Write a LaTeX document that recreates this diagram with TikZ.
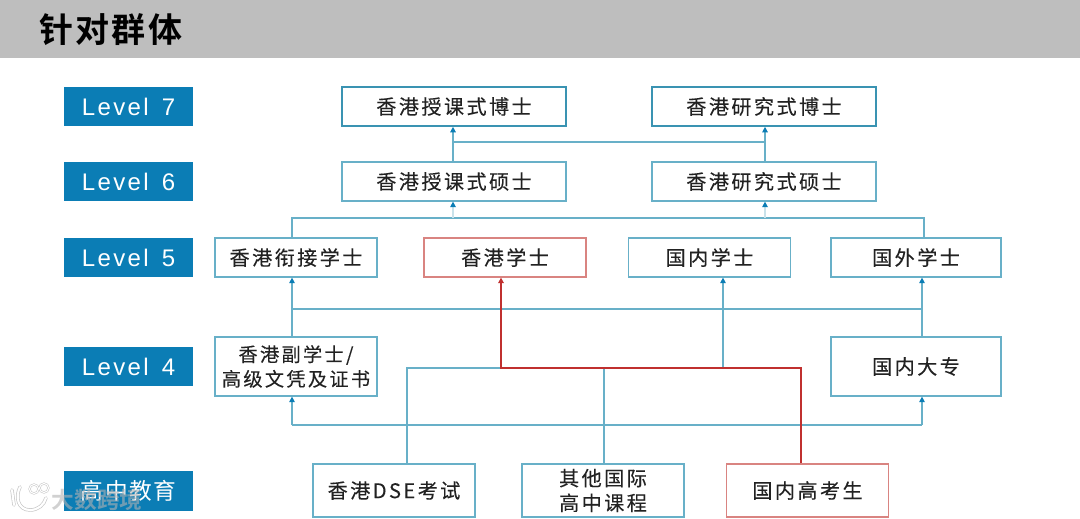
\documentclass[tikz,border=0pt]{standalone}
\usepackage{fontspec}
\setmainfont{Liberation Sans}
\newfontfamily\cjk[LetterSpace=12,FakeBold=0.15]{Noto Sans CJK SC}
\newfontfamily\cjkhead[LetterSpace=7]{Noto Sans CJK SC Bold}
\newfontfamily\cjkwide[LetterSpace=7]{Noto Sans CJK SC}
\newfontfamily\cjkmark{Noto Sans CJK SC Bold}
\newfontfamily\lat[LetterSpace=10]{Liberation Sans}
\usetikzlibrary{arrows.meta}
\definecolor{band}{HTML}{BEBEBE}
\definecolor{lvl}{HTML}{0B7DB5}
\definecolor{ln}{HTML}{68B0C8}
\definecolor{lnd}{HTML}{3A93B2}
\definecolor{lnf}{HTML}{C9E2EA}
\definecolor{rd}{HTML}{C0302F}
\definecolor{rdl}{HTML}{D98481}
\definecolor{tx}{HTML}{222222}
\tikzset{
  lvlbox/.style={fill=lvl,text=white,minimum width=96.75pt,minimum height=29.25pt,inner sep=0pt,font=\fontsize{18}{20}\selectfont\lat},
  cbox/.style={draw=ln,line width=.9pt,fill=white,text=tx,inner sep=0pt,align=center,font=\fontsize{15.1}{18.5}\selectfont\cjk},
  wide/.style={cbox,minimum width=168pt,minimum height=29.25pt},
  mid/.style={cbox,minimum width=121.5pt,minimum height=29.25pt},
  big/.style={cbox,minimum width=127.5pt,minimum height=29.25pt},
  link/.style={ln,line width=.9pt},
  tipblue/.style={-{Triangle[length=4.2pt,width=4.2pt,color=lvl,fill=lvl]}},
  linkarr/.style={link,tipblue},
  redlink/.style={rd,line width=1.1pt},
  redarr/.style={redlink,-{Triangle[length=4.2pt,width=4.2pt,color=rd,fill=rd]}}
}
\begin{document}
\begin{tikzpicture}[x=0.75pt,y=-0.75pt]
\useasboundingbox (0,0) rectangle (1080,518);
\fill[band] (0,0) rectangle (1080,58);
\node[anchor=west,inner sep=0pt,text=black,font=\fontsize{25.5}{27}\selectfont\cjkhead] (title) at (39,30) {针对群体};
% level labels
\node[lvlbox] (l7) at (128.5,106.5) {Level\hspace{3pt} 7};
\node[lvlbox] (l6) at (128.5,181.5) {Level\hspace{3pt} 6};
\node[lvlbox] (l5) at (128.5,257.5) {Level\hspace{3pt} 5};
\node[lvlbox] (l4) at (128.5,366.5) {Level\hspace{3pt} 4};
\node[lvlbox,minimum height=30pt,font=\fontsize{17}{20}\selectfont\cjkwide] (l3) at (128.5,491) {高中教育};
% anchors of the vertical runs
\coordinate (xa) at (292,0);
\coordinate (xb) at (453,0);
\coordinate (xc) at (501,0);
\coordinate (xd) at (723,0);
\coordinate (xe) at (765,0);
\coordinate (xf) at (922,0);
\coordinate (xg) at (407,0);
\coordinate (xh) at (604,0);
\coordinate (xi) at (801,0);
\coordinate (xj) at (924,0);
\coordinate (yt) at (0,142);
\coordinate (ym) at (0,218);
\coordinate (yn) at (0,309);
\coordinate (yo) at (0,368);
\coordinate (yp) at (0,425);
% boxes
\node[wide,draw=lnd,line width=1.2pt] (d1) at (454,106.5) {香港授课式博士};
\node[wide,draw=lnd,line width=1.2pt] (d2) at (764,106.5) {香港研究式博士};
\node[wide] (m1) at (454,181.5) {香港授课式硕士};
\node[wide] (m2) at (764,181.5) {香港研究式硕士};
\node[mid] (b1) at (296,257.5) {香港衔接学士};
\node[mid,draw=rdl] (b2) at (505,257.5) {香港学士};
\node[mid] (b3) at (709.5,257.5) {国内学士};
\node[big] (b4) at (916,257.5) {国外学士};
\node[mid,minimum height=44.25pt,font=\fontsize{14.4}{18.5}\selectfont\cjk] (a1) at (296,366.5) {香港副学士/\\高级文凭及证书};
\node[big,minimum height=44.25pt] (a2) at (916,366.5) {国内大专};
\node[mid,minimum height=39.75pt] (h1) at (394,490.5) {香港DSE考试};
\node[mid,minimum height=39.75pt] (h2) at (603,490.5) {其他国际\\高中课程};
\node[mid,minimum height=39.75pt,draw=rdl] (h3) at (807.5,490.5) {国内高考生};
% level 6 to 7
\draw[linkarr] (m1.north -| xb) -- (d1.south -| xb);
\draw[linkarr] (m2.north -| xe) -- (d2.south -| xe);
\draw[link] (xb |- yt) -- (xe |- yt);
% level 5 to 6
\draw[link] (b1.north -| xa) -- (xa |- ym) -- (xj |- ym) -- (b4.north -| xj);
\draw[lnf,line width=1pt,tipblue] (xb |- ym) -- (m1.south -| xb);
\draw[lnf,line width=1pt,tipblue] (xe |- ym) -- (m2.south -| xe);
% level 4 to 5
\draw[linkarr] (a1.north -| xa) -- (b1.south -| xa);
\draw[linkarr] (a2.north -| xf) -- (b4.south -| xf);
\draw[link] (xa |- yn) -- (xf |- yn);
% school to level 4
\draw[linkarr] (xf |- yp) -- (a2.south -| xf);
\draw[linkarr] (xa |- yp) -- (a1.south -| xa);
\draw[link] (xa |- yp) -- (xf |- yp);
% school to level 5
\draw[link] (h1.north -| xg) -- (xg |- yo) -- (xc |- yo);
\draw[link] (h2.north -| xh) -- (xh |- yo);
\draw[linkarr] (xd |- yo) -- (b3.south -| xd);
% red route
\draw[redarr] (h3.north -| xi) -- (xi |- yo) -- (xc |- yo) -- (b2.south -| xc);
% watermark
\draw[gray!45,line width=2.6pt,line cap=round] (12,490) -- (14,505) (20,487) .. controls (15,497) and (18,510) .. (30,510) .. controls (38,510) and (44,505) .. (46,498);
\draw[white,line width=1.6pt,line cap=round] (12,490) -- (14,505) (20,487) .. controls (15,497) and (18,510) .. (30,510) .. controls (38,510) and (44,505) .. (46,498);
\draw[gray!45,line width=1.6pt] (34,489) circle (4.5) (44,488) circle (4.5);
\draw[white,line width=.8pt] (34,489) circle (4.5) (44,488) circle (4.5);
\begin{scope}[opacity=.6]
\node[text=gray!60,inner sep=0pt,font=\fontsize{17}{18}\selectfont\cjkmark] (wm) at (97,500) {大数跨境};
\end{scope}
\end{tikzpicture}
\end{document}
